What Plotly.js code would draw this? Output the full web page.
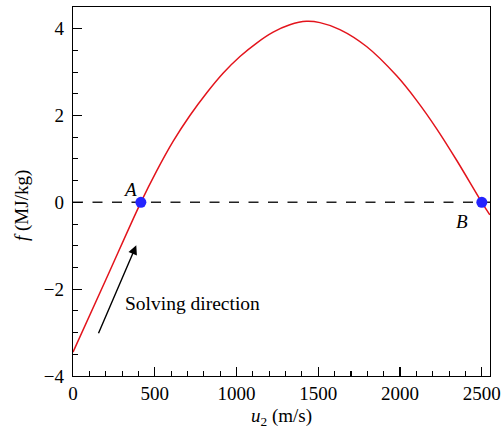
<!DOCTYPE html>
<html>
<head>
<meta charset="utf-8">
<script src="https://cdn.plot.ly/plotly-3.0.1.min.js"></script>
<style>
  html, body { margin: 0; padding: 0; background: #fff; }
  #chart { width: 503px; height: 436px; }
</style>
</head>
<body>
<div id="chart"></div>
<script>
// Residual function f(u2) along the solving path
const u2 = [0, 200, 415, 511, 613, 715, 817, 919, 1021, 1123, 1224, 1326, 1428, 1510, 1632, 1795, 1978, 2101, 2223, 2346, 2500, 2549];
const f = [-3.45, -1.79, 0, 0.72, 1.41, 2.00, 2.52, 2.98, 3.36, 3.67, 3.92, 4.09, 4.17, 4.14, 3.98, 3.59, 2.92, 2.35, 1.70, 0.97, 0, -0.29];

// Roots of f
const rootLabels = ['A', 'B'];
const rootU = [415, 2500];
const rootF = [0, 0];

// Reference line f = 0
const zeroU = [0, 2550];
const zeroF = [0, 0];

// Direction arrow (tail -> head) and its caption
const arrowU = [152, 387];
const arrowF = [-3.05, -0.99];
const arrowText = 'Solving direction';

const xTicks = [0, 500, 1000, 1500, 2000, 2500];
const yTicks = [-4, -2, 0, 2, 4];

const serif = 'Liberation Serif, Times New Roman, serif';

const traces = [
  {
    x: zeroU, y: zeroF, mode: 'lines', hoverinfo: 'skip',
    line: { color: '#222', width: 1.5, dash: '10px,9.5px' }
  },
  {
    x: u2, y: f, mode: 'lines',
    line: { color: '#e3141c', width: 1.5, shape: 'spline', smoothing: 1 }
  },
  {
    x: rootU, y: rootF, mode: 'markers',
    marker: { color: '#2424ff', size: 11 }
  }
];

const axisCommon = {
  showgrid: false, zeroline: false,
  showline: true, linecolor: '#000', linewidth: 1.2, mirror: true,
  ticks: 'inside', ticklen: 9, tickwidth: 1.2, tickcolor: '#000',
  tickfont: { family: serif, size: 19, color: '#000' }
};

const layout = {
  width: 503, height: 436,
  margin: { l: 73, r: 13, t: 7, b: 60 },
  paper_bgcolor: '#fff', plot_bgcolor: '#fff',
  showlegend: false,
  font: { family: serif, color: '#000' },
  xaxis: Object.assign({}, axisCommon, {
    range: [0, 2550],
    tickvals: xTicks,
    minor: { dtick: 100, tick0: 0, ticks: 'inside', ticklen: 5, tickwidth: 1.1, tickcolor: '#000' },
    title: { text: '<i>u</i><sub>2</sub> (m/s)', font: { family: serif, size: 19 }, standoff: 5 }
  }),
  yaxis: Object.assign({}, axisCommon, {
    range: [-4, 4.5],
    tickvals: yTicks,
    ticklabelstandoff: 4,
    minor: { dtick: 0.5, tick0: 0, ticks: 'inside', ticklen: 5, tickwidth: 1.1, tickcolor: '#000' }
  }),
  annotations: [
    {
      xref: 'paper', yref: 'paper', x: -0.122, y: 0.461,
      xanchor: 'center', yanchor: 'middle',
      text: '<i>f</i> (MJ/kg)', textangle: -90, showarrow: false,
      font: { family: serif, size: 19 }
    },
    {
      x: 348, y: 0.30, text: '<i>' + rootLabels[0] + '</i>', showarrow: false,
      font: { family: serif, size: 19 }
    },
    {
      x: 2376, y: -0.45, text: '<i>' + rootLabels[1] + '</i>', showarrow: false,
      font: { family: serif, size: 19 }
    },
    {
      x: arrowU[1], y: arrowF[1], ax: arrowU[0], ay: arrowF[0],
      axref: 'x', ayref: 'y', text: '', showarrow: true,
      arrowhead: 2, arrowsize: 1.3, arrowwidth: 1.4, arrowcolor: '#000', standoff: 0
    },
    {
      x: 305, y: -2.32, xanchor: 'left', text: arrowText, showarrow: false,
      font: { family: serif, size: 19.5 }
    }
  ]
};

Plotly.newPlot('chart', traces, layout, { displayModeBar: false, staticPlot: true });
</script>
</body>
</html>
